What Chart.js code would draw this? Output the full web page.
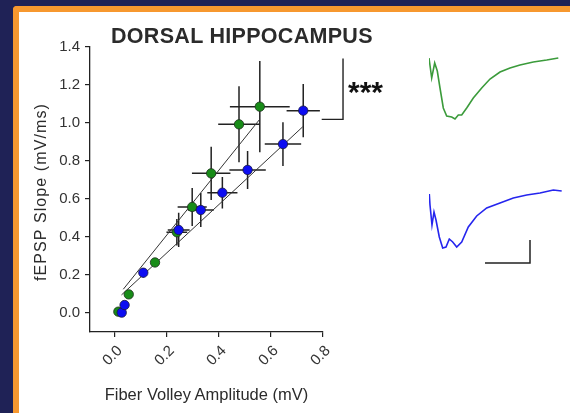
<!DOCTYPE html>
<html>
<head>
<meta charset="utf-8">
<script src="https://cdn.jsdelivr.net/npm/chart.js@4.4.1/dist/chart.umd.min.js"></script>
<style>
  body {
    margin: 0;
    width: 570px;
    height: 413px;
    overflow: hidden;
    position: relative;
    background: #1f2256;
    font-family: "Liberation Sans", Arial, sans-serif;
    color: #2b2b2b;
  }
  .panel {
    position: absolute;
    left: 13px;
    top: 6px;
    width: 600px;
    height: 450px;
    background: #fff;
    border-left: 6px solid #f7982f;
    border-top: 6px solid #f7982f;
    border-top-left-radius: 4px;
  }
  canvas { position: absolute; }
  .heading {
    position: absolute;
    left: 111px;
    top: 26px;
    font-size: 21.5px;
    line-height: 21.5px;
    letter-spacing: 0.3px;
    font-weight: bold;
    white-space: nowrap;
  }
  .x-title {
    position: absolute;
    left: 90px;
    width: 233px;
    top: 386px;
    font-size: 16.5px;
    line-height: 16.5px;
    text-align: center;
    white-space: nowrap;
  }
  .y-title {
    position: absolute;
    left: 41px;
    top: 192px;
    font-size: 16px;
    line-height: 16px;
    letter-spacing: 1.1px;
    white-space: nowrap;
    transform: translate(-50%, -50%) rotate(-90deg);
  }
  .stars {
    position: absolute;
    left: 348px;
    top: 77px;
    font-size: 30px;
    line-height: 30px;
    font-weight: bold;
    color: #111;
  }
</style>
</head>
<body>
<div class="panel"></div>
<canvas id="fvChart" width="570" height="413" style="left:0;top:0"></canvas>
<canvas id="greenTrace" width="140" height="110" style="left:429px;top:48px"></canvas>
<canvas id="blueTrace" width="140" height="110" style="left:429px;top:180px"></canvas>
<div class="heading">DORSAL HIPPOCAMPUS</div>
<div class="y-title">fEPSP Slope (mV/ms)</div>
<div class="x-title">Fiber Volley Amplitude (mV)</div>
<div class="stars">***</div>

<script>
const xTicks = [0, 0.2, 0.4, 0.6, 0.8];
const yTicks = [0, 0.2, 0.4, 0.6, 0.8, 1.0, 1.2, 1.4];

// input-output points, mean +/- error
const greenFv = [0.013, 0.053, 0.154, 0.238, 0.297, 0.370, 0.477, 0.557];
const greenSlope = [0.007, 0.098, 0.266, 0.425, 0.558, 0.735, 0.993, 1.086];
const greenFvErr = [0.008, 0.01, 0.012, 0.04, 0.056, 0.074, 0.08, 0.115];
const greenSlopeErr = [0.008, 0.015, 0.02, 0.07, 0.1, 0.14, 0.2, 0.24];

const blueFv = [0.026, 0.037, 0.109, 0.245, 0.33, 0.413, 0.51, 0.646, 0.724];
const blueSlope = [0.002, 0.042, 0.212, 0.437, 0.542, 0.633, 0.753, 0.889, 1.065];
const blueFvErr = [0.008, 0.008, 0.012, 0.042, 0.05, 0.058, 0.07, 0.07, 0.064];
const blueSlopeErr = [0.008, 0.01, 0.025, 0.09, 0.09, 0.083, 0.1, 0.115, 0.14];

// linear fits
const greenFitX = [0.032, 0.557];
const greenFitY = [0.125, 1.02];
const blueFitX = [0.025, 0.722];
const blueFitY = [0.095, 0.98];

// significance bracket
const bracketX = [0.795, 0.877, 0.877];
const bracketY = [1.019, 1.019, 1.34];

// example sweeps: time (ms) vs response (mV)
const greenT = [0, 0.27, 0.57, 0.83, 1.1, 1.43, 1.77, 2.27, 2.6, 2.93, 3.27, 3.77, 4.43, 5.27, 6.1, 7.1, 8.1, 9.1, 10.43, 11.77, 12.93];
const greenV = [0, -0.2, -0.05, -0.13, -0.3, -0.5, -0.58, -0.59, -0.61, -0.57, -0.57, -0.5, -0.4, -0.3, -0.21, -0.14, -0.1, -0.07, -0.04, -0.02, 0];
const blueT = [0.03, 0.1, 0.3, 0.5, 0.7, 1.03, 1.37, 1.7, 2.03, 2.37, 2.77, 3.27, 3.93, 4.77, 5.77, 7.1, 8.43, 9.77, 11.1, 12.43, 13.27];
const blueV = [-0.04, -0.15, -0.35, -0.22, -0.3, -0.47, -0.58, -0.57, -0.49, -0.52, -0.57, -0.52, -0.37, -0.26, -0.18, -0.13, -0.08, -0.05, -0.03, 0, -0.01];
const scaleBarT = [5.6, 10.1, 10.1];
const scaleBarV = [-0.73, -0.73, -0.5];

const ink = '#222';
const tickFont = { family: '"Liberation Sans", Arial, sans-serif', size: 15 };

const pts = (xs, ys) => xs.map((x, i) => ({ x: x, y: ys[i] }));

// crosshair error bars under the markers, bracket on top
const errorBars = {
  id: 'errorBars',
  beforeDatasetsDraw(chart) {
    const { ctx, scales: { x, y } } = chart;
    const draw = (xs, ys, xe, ye) => {
      for (let i = 0; i < xs.length; i++) {
        const px = x.getPixelForValue(xs[i]);
        const py = y.getPixelForValue(ys[i]);
        ctx.beginPath();
        ctx.moveTo(x.getPixelForValue(xs[i] - xe[i]), py);
        ctx.lineTo(x.getPixelForValue(xs[i] + xe[i]), py);
        ctx.moveTo(px, y.getPixelForValue(ys[i] - ye[i]));
        ctx.lineTo(px, y.getPixelForValue(ys[i] + ye[i]));
        ctx.stroke();
      }
    };
    ctx.save();
    ctx.strokeStyle = ink;
    ctx.lineWidth = 1.5;
    draw(greenFv, greenSlope, greenFvErr, greenSlopeErr);
    draw(blueFv, blueSlope, blueFvErr, blueSlopeErr);
    ctx.restore();
  },
  afterDatasetsDraw(chart) {
    const { ctx, scales: { x, y } } = chart;
    ctx.save();
    ctx.strokeStyle = ink;
    ctx.lineWidth = 1.4;
    ctx.beginPath();
    bracketX.forEach((v, i) => {
      const px = x.getPixelForValue(v);
      const py = y.getPixelForValue(bracketY[i]);
      if (i === 0) ctx.moveTo(px, py); else ctx.lineTo(px, py);
    });
    ctx.stroke();
    ctx.restore();
  }
};

new Chart(document.getElementById('fvChart'), {
  type: 'scatter',
  data: {
    datasets: [
      { data: pts(blueFv, blueSlope), backgroundColor: '#0d0df2', borderColor: '#1a1a40', borderWidth: 0.8, pointRadius: 4.7, order: 0 },
      { data: pts(greenFv, greenSlope), backgroundColor: '#188c18', borderColor: '#1d301d', borderWidth: 0.8, pointRadius: 4.7, order: 1 },
      { data: pts(greenFitX, greenFitY), showLine: true, borderColor: '#333', borderWidth: 1, pointRadius: 0, order: 2 },
      { data: pts(blueFitX, blueFitY), showLine: true, borderColor: '#333', borderWidth: 1, pointRadius: 0, order: 2 }
    ]
  },
  options: {
    responsive: false,
    animation: false,
    layout: { padding: { left: 0, top: 47, right: 247, bottom: 0 } },
    plugins: { legend: { display: false }, tooltip: { enabled: false } },
    scales: {
      x: {
        type: 'linear',
        min: -0.096,
        max: 0.8,
        afterBuildTicks: (s) => { s.ticks = xTicks.map((v) => ({ value: v })); },
        afterFit: (s) => { s.height = 81; },
        ticks: { autoSkip: false, minRotation: 45, maxRotation: 45, labelOffset: 5, color: '#333', font: tickFont, padding: 5, callback: (v) => v.toFixed(1) },
        grid: { drawOnChartArea: false, tickLength: 5, color: ink, lineWidth: 1.2 },
        border: { color: ink, width: 1.3 }
      },
      y: {
        type: 'linear',
        min: -0.1,
        max: 1.4,
        afterBuildTicks: (s) => { s.ticks = yTicks.map((v) => ({ value: v })); },
        afterFit: (s) => { s.width = 90; },
        ticks: { color: '#333', font: tickFont, padding: 5, callback: (v) => v.toFixed(1) },
        grid: { drawOnChartArea: false, tickLength: 5, color: ink, lineWidth: 1.2 },
        border: { color: ink, width: 1.3 }
      }
    }
  },
  plugins: [errorBars]
});

function traceChart(el, datasets) {
  return new Chart(el, {
    type: 'scatter',
    data: { datasets: datasets },
    options: {
      responsive: false,
      animation: false,
      layout: { padding: 0 },
      plugins: { legend: { display: false }, tooltip: { enabled: false } },
      scales: {
        x: { display: false, min: 0, max: 14 },
        y: { display: false, min: -1, max: 0.1 }
      }
    }
  });
}

const sweep = (color) => ({ showLine: true, borderColor: color, borderWidth: 1.6, pointRadius: 0, clip: false });

traceChart(document.getElementById('greenTrace'), [
  Object.assign({ data: pts(greenT, greenV) }, sweep('#3b9b3b'))
]);
traceChart(document.getElementById('blueTrace'), [
  Object.assign({ data: pts(blueT, blueV) }, sweep('#2525ee')),
  { data: pts(scaleBarT, scaleBarV), showLine: true, borderColor: ink, borderWidth: 1.5, pointRadius: 0, clip: false }
]);
</script>
</body>
</html>
